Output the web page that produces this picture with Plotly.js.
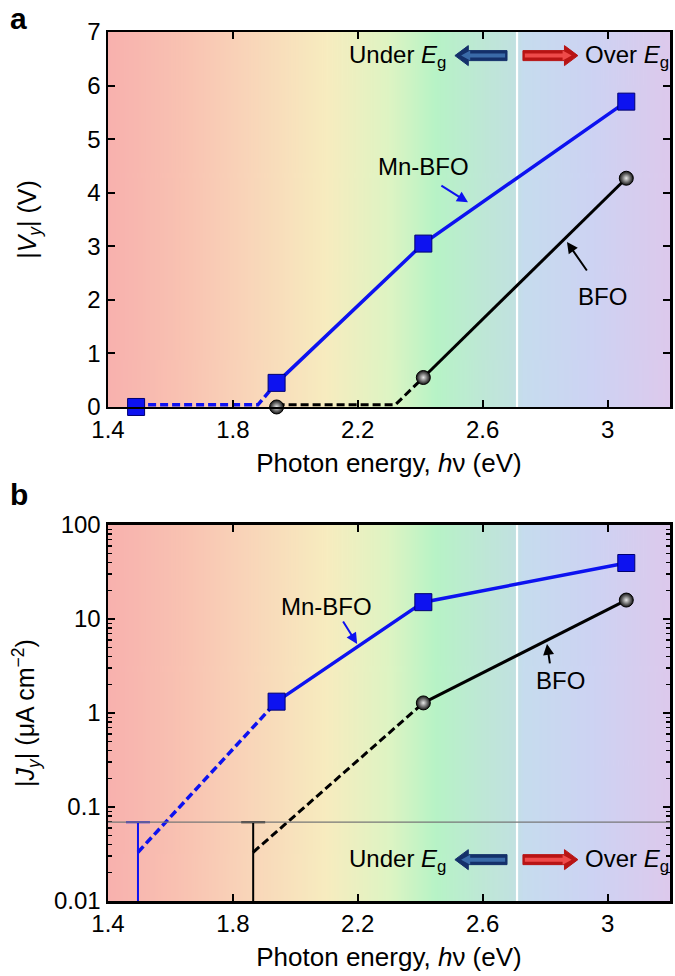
<!DOCTYPE html>
<html><head><meta charset="utf-8">
<script src="https://cdn.plot.ly/plotly-3.0.1.min.js"></script>
<style>html,body{margin:0;padding:0;background:#fff}#chart{width:675px;height:976px}</style>
</head><body><div id="chart"></div>
<script>
// ---------- Panel a: photovoltage |Vy| (V) ----------
const mnEnergyA = [1.49, 1.94, 2.41, 3.06];
const mnVy = [0, 0.45, 3.05, 5.70];
const bfoEnergyA = [1.94, 2.41, 3.06];
const bfoVy = [0, 0.55, 4.27];
const mnDashAx = [1.49, 1.88, 1.94];
const mnDashAy = [0.04, 0.04, 0.45];
const bfoDashAx = [1.94, 2.32, 2.41];
const bfoDashAy = [0.04, 0.04, 0.55];

// ---------- Panel b: photocurrent |Jy| (uA cm^-2) ----------
const mnEnergyB = [1.94, 2.41, 3.06];
const mnJy = [1.32, 15.1, 39.4];
const bfoEnergyB = [2.41, 3.06];
const bfoJy = [1.28, 15.9];
const mnDashBx = [1.496, 1.94];
const mnDashBy = [0.033, 1.32];
const bfoDashBx = [1.865, 2.41];
const bfoDashBy = [0.033, 1.28];
const detectLimit = 0.069;
const mnLimitX = [1.496];
const bfoLimitX = [1.865];

const bandGap = 2.71;
const xTickVals = [1.4, 1.8, 2.2, 2.6, 3.0];
const xTickText = ['1.4', '1.8', '2.2', '2.6', '3'];
const yTickValsA = [0, 1, 2, 3, 4, 5, 6, 7];
const yTickTextA = ['0', '1', '2', '3', '4', '5', '6', '7'];
const yTickValsB = [0.01, 0.1, 1, 10, 100];
const yTickTextB = ['0.01', '0.1', '1', '10', '100'];
const bgStops = [[1.4,'#f8b1ae'],[1.65,'#f9c3b2'],[1.85,'#f9d5b9'],[2.1,'#f7ecbf'],[2.3,'#def4c3'],[2.45,'#b7f3c6'],[2.62,'#bfe6d8'],[2.7,'#c1e2e0'],[2.73,'#c6dcee'],[2.95,'#cdd3f3'],[3.2,'#ddc9ec']];

// ---------- styling ----------
const FONT = '"Liberation Sans", Arial, sans-serif';
const BLUE = '#0d12f0';
const XMIN = 1.4, XMAX = 3.2;

// spectrum background with the band-gap marker (white line)
function gradientURL() {
  const c = document.createElement('canvas');
  c.width = 900; c.height = 4;
  const g = c.getContext('2d');
  const lg = g.createLinearGradient(0, 0, c.width, 0);
  bgStops.forEach(s => lg.addColorStop((s[0] - XMIN) / (XMAX - XMIN), s[1]));
  g.fillStyle = lg; g.fillRect(0, 0, c.width, c.height);
  const xg = (bandGap - XMIN) / (XMAX - XMIN) * c.width;
  g.fillStyle = '#ffffff'; g.fillRect(Math.round(xg - 2), 0, 4, c.height);
  return c.toDataURL();
}
const bg = gradientURL();

const sq = () => ({symbol: 'square', size: 17, color: BLUE, line: {color: '#000070', width: 1}});
const ball = {symbol: 'circle', size: 14, color: '#111', gradient: {type: 'radial', color: '#e8e8e8'}, line: {color: '#000', width: 1}};

const traces = [
  // panel a
  {x: mnDashAx, y: mnDashAy, mode: 'lines', line: {color: BLUE, width: 3.5, dash: '8px,4px'}, xaxis: 'x', yaxis: 'y'},
  {x: bfoDashAx, y: bfoDashAy, mode: 'lines', line: {color: '#000', width: 3, dash: '8px,4px'}, xaxis: 'x', yaxis: 'y'},
  {x: mnEnergyA.slice(1), y: mnVy.slice(1), mode: 'lines', line: {color: BLUE, width: 3.5}, xaxis: 'x', yaxis: 'y'},
  {x: bfoEnergyA.slice(1), y: bfoVy.slice(1), mode: 'lines', line: {color: '#000', width: 3}, xaxis: 'x', yaxis: 'y'},
  {x: mnEnergyA, y: mnVy, mode: 'markers', marker: sq(), cliponaxis: false, xaxis: 'x', yaxis: 'y'},
  {x: bfoEnergyA, y: bfoVy, mode: 'markers', marker: ball, cliponaxis: false, xaxis: 'x', yaxis: 'y'},
  // panel b
  {x: mnDashBx, y: mnDashBy, mode: 'lines', line: {color: BLUE, width: 3.5, dash: '8px,4px'}, xaxis: 'x2', yaxis: 'y2'},
  {x: bfoDashBx, y: bfoDashBy, mode: 'lines', line: {color: '#000', width: 3, dash: '8px,4px'}, xaxis: 'x2', yaxis: 'y2'},
  {x: mnEnergyB, y: mnJy, mode: 'lines', line: {color: BLUE, width: 3.5}, xaxis: 'x2', yaxis: 'y2'},
  {x: bfoEnergyB, y: bfoJy, mode: 'lines', line: {color: '#000', width: 3}, xaxis: 'x2', yaxis: 'y2'},
  {x: mnEnergyB, y: mnJy, mode: 'markers', marker: sq(), xaxis: 'x2', yaxis: 'y2'},
  {x: bfoEnergyB, y: bfoJy, mode: 'markers', marker: ball, xaxis: 'x2', yaxis: 'y2'},
  // detection-limit bars
  {x: mnLimitX, y: mnLimitX.map(() => detectLimit), mode: 'markers', marker: {opacity: 0, size: 1},
   error_y: {type: 'data', symmetric: false, array: [0], arrayminus: [detectLimit * 0.99], color: BLUE, thickness: 2, width: 12}, xaxis: 'x2', yaxis: 'y2'},
  {x: bfoLimitX, y: bfoLimitX.map(() => detectLimit), mode: 'markers', marker: {opacity: 0, size: 1},
   error_y: {type: 'data', symmetric: false, array: [0], arrayminus: [detectLimit * 0.99], color: '#000', thickness: 2, width: 12}, xaxis: 'x2', yaxis: 'y2'}
];

const axBase = {
  showline: true, linecolor: '#000', linewidth: 2.5, mirror: 'ticks',
  ticks: 'inside', ticklen: 7, tickwidth: 2, tickcolor: '#000',
  showgrid: false, zeroline: false,
  tickfont: {family: FONT, size: 24, color: '#000'}
};
const xTitle = {text: 'Photon energy, <i>h</i>ν (eV)', font: {family: FONT, size: 26, color: '#000'}, standoff: 12};

function blockArrow(xref, yref, yfrac, xTail, xTip, dark, light) {
  const s = Math.sign(xTip - xTail);
  const head = 0.043 * s;
  const neck = xTip - head;
  const p = (w, hh, t0, t1, nk) => `M${t0},${w} L${nk},${w} L${nk},${hh} L${t1},0 L${nk},${-hh} L${nk},${-w} L${t0},${-w} Z`;
  return [
    {type: 'path', xref: xref, yref: yref, ysizemode: 'pixel', yanchor: yfrac,
     path: p(5, 10, xTail, xTip, neck), fillcolor: dark, line: {color: dark, width: 1}, layer: 'above'},
    {type: 'path', xref: xref, yref: yref, ysizemode: 'pixel', yanchor: yfrac,
     path: p(2, 5, xTail + 0.006 * s, xTip - 0.02 * s, neck - 0.006 * s), fillcolor: light, line: {width: 0}, layer: 'above'}
  ];
}

const shapes = [
  {type: 'line', xref: 'x2 domain', yref: 'y2', x0: 0, x1: 1, y0: detectLimit, y1: detectLimit, line: {color: '#777', width: 1.2}, layer: 'above'},
  ...blockArrow('x', 'y domain', 0.937, 2.678, 2.511, '#14306a', '#3a6aa8'),
  ...blockArrow('x', 'y domain', 0.937, 2.729, 2.905, '#b81414', '#ee4a4a'),
  ...blockArrow('x2', 'y2 domain', 0.11, 2.678, 2.511, '#14306a', '#3a6aa8'),
  ...blockArrow('x2', 'y2 domain', 0.11, 2.729, 2.905, '#b81414', '#ee4a4a')
];

const tf = {family: FONT, size: 24, color: '#000'};
const annotations = [
  {xref: 'paper', yref: 'paper', x: -0.178, y: 1.016, xanchor: 'left', yanchor: 'middle', text: '<b>a</b>', showarrow: false, font: {family: FONT, size: 30, color: '#000'}},
  {xref: 'paper', yref: 'paper', x: -0.178, y: 0.468, xanchor: 'left', yanchor: 'middle', text: '<b>b</b>', showarrow: false, font: {family: FONT, size: 30, color: '#000'}},
  // panel a
  {xref: 'x', yref: 'y domain', x: 2.49, y: 0.935, xanchor: 'right', yanchor: 'middle', text: 'Under <i>E</i><sub>g</sub>', showarrow: false, font: tf},
  {xref: 'x', yref: 'y domain', x: 2.922, y: 0.935, xanchor: 'left', yanchor: 'middle', text: 'Over <i>E</i><sub>g</sub>', showarrow: false, font: tf},
  {xref: 'x', yref: 'y', x: 2.41, y: 4.48, text: 'Mn-BFO', showarrow: false, font: tf},
  {xref: 'x', yref: 'y', x: 2.553, y: 3.82, axref: 'x', ayref: 'y', ax: 2.463, ay: 4.15, text: '', showarrow: true, arrowhead: 2, arrowsize: 1.1, arrowwidth: 2, arrowcolor: BLUE},
  {xref: 'x', yref: 'y', x: 2.985, y: 2.06, text: 'BFO', showarrow: false, font: tf},
  {xref: 'x', yref: 'y', x: 2.87, y: 3.08, axref: 'x', ayref: 'y', ax: 2.937, ay: 2.52, text: '', showarrow: true, arrowhead: 2, arrowsize: 1.1, arrowwidth: 2, arrowcolor: '#000'},
  // panel b
  {xref: 'x2', yref: 'y2 domain', x: 2.49, y: 0.108, xanchor: 'right', yanchor: 'middle', text: 'Under <i>E</i><sub>g</sub>', showarrow: false, font: tf},
  {xref: 'x2', yref: 'y2 domain', x: 2.922, y: 0.108, xanchor: 'left', yanchor: 'middle', text: 'Over <i>E</i><sub>g</sub>', showarrow: false, font: tf},
  {xref: 'x2', yref: 'y2', x: 2.10, y: 1.128, text: 'Mn-BFO', showarrow: false, font: tf},
  {xref: 'x2', yref: 'y2', x: 2.198, y: 0.735, axref: 'x2', ayref: 'y2', ax: 2.15, ay: 0.99, text: '', showarrow: true, arrowhead: 2, arrowsize: 1.1, arrowwidth: 2, arrowcolor: BLUE},
  {xref: 'x2', yref: 'y2', x: 2.848, y: 0.35, text: 'BFO', showarrow: false, font: tf},
  {xref: 'x2', yref: 'y2', x: 2.806, y: 0.735, axref: 'x2', ayref: 'y2', ax: 2.816, ay: 0.511, text: '', showarrow: true, arrowhead: 2, arrowsize: 1.1, arrowwidth: 2, arrowcolor: '#000'}
];

const layout = {
  width: 675, height: 976,
  margin: {l: 108, r: 5, t: 32, b: 75},
  paper_bgcolor: '#fff', plot_bgcolor: 'rgba(0,0,0,0)',
  showlegend: false,
  font: {family: FONT, color: '#000'},
  xaxis: Object.assign({}, axBase, {anchor: 'y', range: [XMIN, XMAX], tickmode: 'array', tickvals: xTickVals, ticktext: xTickText, title: xTitle}),
  yaxis: Object.assign({}, axBase, {domain: [0.5685, 1], range: [0, 7], tickmode: 'array', tickvals: yTickValsA, ticktext: yTickTextA,
    title: {text: '|<i>V</i><sub><i>y</i></sub>| (V)', font: {family: FONT, size: 25, color: '#000'}, standoff: 44}}),
  xaxis2: Object.assign({}, axBase, {anchor: 'y2', range: [XMIN, XMAX], tickmode: 'array', tickvals: xTickVals, ticktext: xTickText, title: xTitle}),
  yaxis2: Object.assign({}, axBase, {domain: [0, 0.4327], type: 'log', range: [-2, 2], tickmode: 'array', tickvals: yTickValsB, ticktext: yTickTextB,
    minor: {ticks: 'inside', ticklen: 4, tickwidth: 1.5, tickcolor: '#000', dtick: 'D1', showgrid: false},
    title: {text: '|<i>J</i><sub><i>y</i></sub>| (μA cm<sup>−2</sup>)', font: {family: FONT, size: 25, color: '#000'}, standoff: 12}}),
  images: [
    {source: bg, xref: 'x domain', yref: 'y domain', x: 0, y: 1, sizex: 1, sizey: 1, sizing: 'stretch', layer: 'below', xanchor: 'left', yanchor: 'top'},
    {source: bg, xref: 'x2 domain', yref: 'y2 domain', x: 0, y: 1, sizex: 1, sizey: 1, sizing: 'stretch', layer: 'below', xanchor: 'left', yanchor: 'top'}
  ],
  shapes: shapes,
  annotations: annotations
};

Plotly.newPlot('chart', traces, layout, {staticPlot: true});
</script></body></html>
